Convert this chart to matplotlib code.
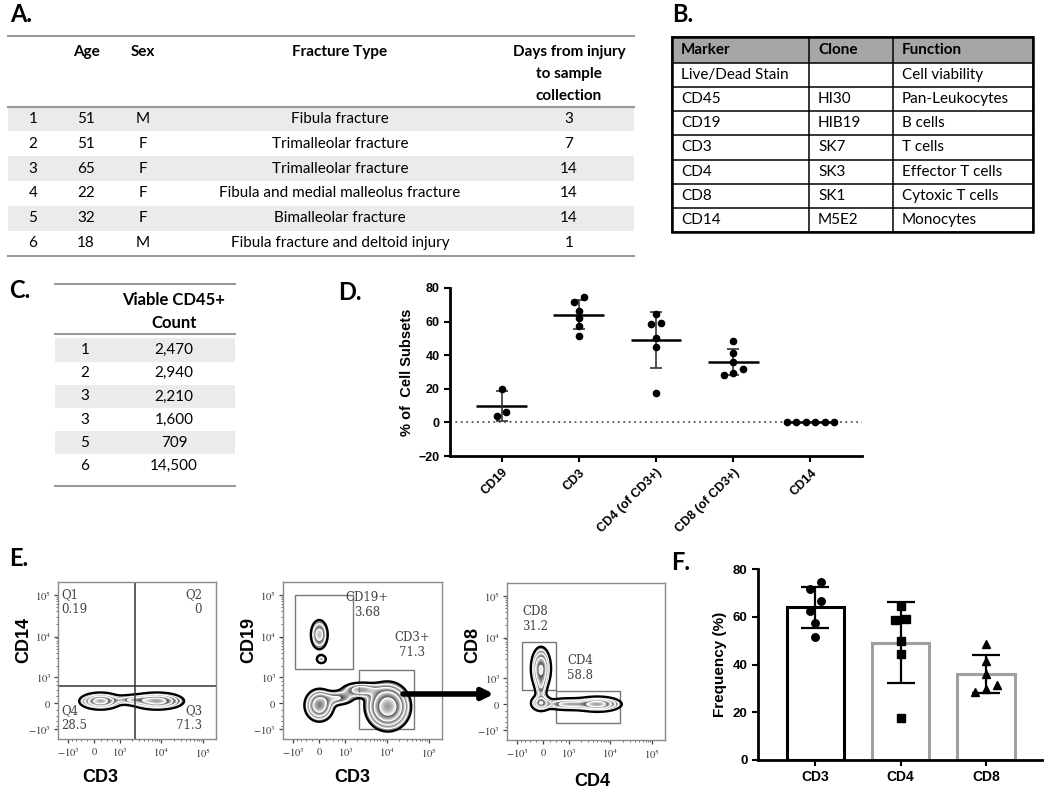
import numpy as np
import matplotlib
matplotlib.use('Agg')
import matplotlib.pyplot as plt
from matplotlib.patches import Rectangle

plt.rcParams['font.family'] = ['Liberation Sans', 'DejaVu Sans']
plt.rcParams['mathtext.fontset'] = 'stix'

# ---- panel A: patients
a_id = ['1', '2', '3', '4', '5', '6']
a_age = ['51', '51', '65', '22', '32', '18']
a_sex = ['M', 'F', 'F', 'F', 'F', 'M']
a_type = ['Fibula fracture', 'Trimalleolar fracture', 'Trimalleolar fracture',
          'Fibula and medial malleolus fracture', 'Bimalleolar fracture',
          'Fibula fracture and deltoid injury']
a_days = ['3', '7', '14', '14', '14', '1']

# ---- panel B: antibody panel
b_head = ['Marker', 'Clone', 'Function']
b_marker = ['Live/Dead Stain', 'CD45', 'CD19', 'CD3', 'CD4', 'CD8', 'CD14']
b_clone = ['', 'HI30', 'HIB19', 'SK7', 'SK3', 'SK1', 'M5E2']
b_func = ['Cell viability', 'Pan-Leukocytes', 'B cells', 'T cells',
          'Effector T cells', 'Cytoxic T cells', 'Monocytes']

# ---- panel C: counts
c_id = ['1', '2', '3', '3', '5', '6']
c_count = ['2,470', '2,940', '2,210', '1,600', '709', '14,500']

# ---- panel D / F: % of cell subsets
d_cats = ['CD19', 'CD3', 'CD4 (of CD3+)', 'CD8 (of CD3+)', 'CD14']
cd19 = [20, 3.6, 6]
cd3 = [74.6, 71.6, 66.4, 62.4, 57.4, 51.6]
cd4 = [64.4, 59, 58.6, 50, 44.6, 17.6]
cd8 = [48.6, 41.6, 36.2, 31.6, 29.6, 28.4]
cd14 = [0, 0, 0, 0, 0, 0]
f_cats = ['CD3', 'CD4', 'CD8']

# ---- panel E: gate numbers
e1_quads = ['Q1\n0.19', 'Q2\n0', 'Q4\n28.5', 'Q3\n71.3']
e2_gates = ['CD19+\n3.68', 'CD3+\n71.3']
e3_gates = ['CD8\n31.2', 'CD4\n58.8']
# populations as (x, y, sx, sy, weight) in biex display units
e1_pops = [(0.15, 0.05, 0.22, 0.09, 1.0), (1.5, 0.05, 0.28, 0.09, 1.0),
           (0.95, 0.08, 0.25, 0.06, 0.45)]
e2_pops = [(0.0, -0.05, 0.17, 0.19, 0.6), (1.62, -0.08, 0.24, 0.26, 1.0),
           (0.45, 0.12, 0.22, 0.10, 0.22), (0.98, 0.32, 0.25, 0.10, 0.3),
           (0.0, 1.64, 0.12, 0.21, 0.28), (0.05, 1.05, 0.08, 0.07, 0.16)]
e3_pops = [(-0.05, 0.85, 0.11, 0.24, 0.8), (-0.05, 0.4, 0.07, 0.2, 0.3),
           (-0.05, 0.03, 0.11, 0.09, 0.7), (0.6, 0.0, 0.30, 0.07, 0.55),
           (1.3, 0.0, 0.25, 0.08, 1.0)]

W, H = 1050, 792
TF = 'Lato'


def box(x0, y0, x1, y1):
    return [x0 / W, 1 - y1 / H, (x1 - x0) / W, (y1 - y0) / H]


def swarm(vals, ppu, near, step):
    # simple beeswarm: points closer than `near` px get spread sideways
    v = np.asarray(vals, float)
    order = np.argsort(v)
    off = np.zeros(len(v))
    groups = [[order[0]]]
    for i in order[1:]:
        if (v[i] - v[groups[-1][-1]]) * ppu < near:
            groups[-1].append(i)
        else:
            groups.append([i])
    for g in groups:
        for k, i in enumerate(g):
            off[i] = (k - (len(g) - 1) / 2) * step
    return off


def biex(v):
    return np.arcsinh(np.asarray(v, float) / 510.) / np.log(10)


fig = plt.figure(figsize=(10.5, 7.92), dpi=100)
ov = fig.add_axes([0, 0, 1, 1])
ov.set_xlim(0, W)
ov.set_ylim(H, 0)
ov.axis('off')
ov.set_zorder(5)

# panel letters
for x, y, t in [(10, 15, 'A.'), (672, 14, 'B.'), (9, 290, 'C.'), (338, 293, 'D.'),
                (9, 559, 'E.'), (671, 562, 'F.')]:
    ov.text(x, y, t, fontsize=17, fontweight='bold', family=TF, va='center', ha='left')

# ---------- A
xa0, xa1 = 8, 634
ov.plot([xa0, xa1], [36, 36], color='#9a9a9a', lw=1.5)
for x, t in zip([86, 143, 340], ['Age', 'Sex', 'Fracture Type']):
    ov.text(x, 52, t, ha='center', va='center', fontsize=11, fontweight='bold', family=TF)
for i, t in enumerate(['Days from injury', 'to sample', 'collection']):
    ov.text(569, 52 + 22 * i, t, ha='center', va='center', fontsize=11,
            fontweight='bold', family=TF)
ov.plot([xa0, xa1], [107, 107], color='#9a9a9a', lw=1.5)
rs = 24.8
for i in range(len(a_id)):
    y = 119 + rs * i
    if i % 2 == 0:
        ov.add_patch(Rectangle((xa0, y - rs / 2), xa1 - xa0, rs, color='#ebebeb', lw=0))
    for x, t in zip([33, 86, 143, 340, 569], [a_id[i], a_age[i], a_sex[i], a_type[i], a_days[i]]):
        ov.text(x, y, t, ha='center', va='center', fontsize=11, family=TF)
ov.plot([xa0, xa1], [256, 256], color='#9a9a9a', lw=1.5)

# ---------- B
bx = [672, 809, 893, 1033]
by = [37, 63] + [63 + 24.14 * (k + 1) for k in range(len(b_marker))]
ov.add_patch(Rectangle((bx[0], by[0]), bx[-1] - bx[0], by[1] - by[0], color='#a6a6a6', lw=0))
for y in by:
    ov.plot([bx[0], bx[-1]], [y, y], color='k', lw=1.1)
for x in bx:
    ov.plot([x, x], [by[0], by[-1]], color='k', lw=1.1)
ov.add_patch(Rectangle((bx[0], by[0]), bx[-1] - bx[0], by[-1] - by[0], fill=False, ec='k', lw=1.8))
for c in range(3):
    ov.text(bx[c] + 9, (by[0] + by[1]) / 2, b_head[c], va='center', fontsize=11,
            fontweight='bold', family=TF)
for r in range(len(b_marker)):
    y = (by[r + 1] + by[r + 2]) / 2
    for c, col in enumerate([b_marker, b_clone, b_func]):
        ov.text(bx[c] + 9, y, col[r], va='center', fontsize=11, family=TF)

# ---------- C
xc0, xc1 = 55, 235
ov.plot([xc0, xc1], [284, 284], color='#9a9a9a', lw=1.5)
ov.text(174, 300, 'Viable CD45+', ha='center', va='center', fontsize=12, fontweight='bold', family=TF)
ov.text(174, 323, 'Count', ha='center', va='center', fontsize=12, fontweight='bold', family=TF)
ov.plot([xc0, xc1], [334, 334], color='#9a9a9a', lw=1.5)
cs = 23.2
for i in range(len(c_id)):
    y = 350 + cs * i
    if i % 2 == 0:
        ov.add_patch(Rectangle((xc0, y - cs / 2), xc1 - xc0, cs, color='#ebebeb', lw=0))
    ov.text(85, y, c_id[i], ha='center', va='center', fontsize=11, family=TF)
    ov.text(174, y, c_count[i], ha='center', va='center', fontsize=11, family=TF)
ov.plot([xc0, xc1], [486, 486], color='#9a9a9a', lw=1.5)

# ---------- D
axd = fig.add_axes(box(450, 288, 862, 456))
d_vals = [cd19, cd3, cd4, cd8, cd14]
axd.axhline(0, color='#555', lw=1.3, ls=(0, (1, 2)), zorder=0)
for i, vals in enumerate(d_vals):
    m = np.mean(vals)
    sd = np.std(vals, ddof=1)
    xo = i + swarm(vals, 1.68, 6, 9.5) / 76.5
    axd.plot(xo, vals, 'o', color='k', ms=4.5, zorder=3)
    axd.hlines(m, i - 0.33, i + 0.33, color='k', lw=1.8, zorder=2)
    axd.errorbar(i, m, yerr=sd, fmt='none', ecolor='#333', elinewidth=1.2, capsize=4.5,
                 capthick=1.2, zorder=2)
axd.set_xlim(-0.667, 4.667)
axd.set_ylim(-20, 80)
axd.set_yticks([-20, 0, 20, 40, 60, 80])
axd.set_xticks(range(len(d_cats)))
axd.set_xticklabels(d_cats, rotation=45, ha='right', rotation_mode='anchor')
axd.set_ylabel('% of  Cell Subsets', fontsize=10.5, fontweight='bold', labelpad=3)
for s in ['top', 'right']:
    axd.spines[s].set_visible(False)
for s in ['left', 'bottom']:
    axd.spines[s].set_linewidth(2)
axd.tick_params(width=1.5, length=4, labelsize=9)
for lab in axd.get_xticklabels() + axd.get_yticklabels():
    lab.set_fontweight('bold')

# ---------- E
tick_v = [-1e3, 0, 1e3, 1e4, 1e5]
tick_l = [r'$-10^3$', r'$0$', r'$10^3$', r'$10^4$', r'$10^5$']
minor_v = [-800, -600, -400, -200, 200, 400, 600, 800] + \
    [k * 1e3 for k in range(2, 10)] + [k * 1e4 for k in range(2, 10)]
lim = (-0.857, 2.9)


def flow(ax, pops, thr=0.07, ratio=1.8):
    gx = np.linspace(lim[0], lim[1], 400)
    X, Y = np.meshgrid(gx, gx)
    Z = np.zeros_like(X)
    for cx, cy, sx, sy, w in pops:
        Z += w * np.exp(-0.5 * (((X - cx) / sx) ** 2 + ((Y - cy) / sy) ** 2))
    base = Z.max() * thr
    z = np.log(np.maximum(Z, 1e-12) / base) / np.log(ratio)
    zebra = np.ma.masked_where(Z < base, 1 - (z % 1))
    ax.imshow(zebra, extent=[lim[0], lim[1], lim[0], lim[1]], origin='lower', cmap='gray',
              vmin=-0.35, vmax=1.0, aspect='auto', interpolation='bilinear')
    lev = base * ratio ** np.arange(1, 9)
    lev = lev[lev < Z.max()]
    ax.contour(X, Y, Z, levels=lev, colors='w', linewidths=0.9)
    ax.contour(X, Y, Z, levels=[base], colors='k', linewidths=1.7)


def flow_axes(pos):
    ax = fig.add_axes(pos)
    ax.set_xlim(lim)
    ax.set_ylim(lim)
    ax.set_xticks(biex(tick_v))
    ax.set_xticklabels(tick_l)
    ax.set_yticks(biex(tick_v))
    ax.set_yticklabels(tick_l)
    ax.set_xticks(biex(minor_v), minor=True)
    ax.set_yticks(biex(minor_v), minor=True)
    ax.tick_params(which='major', length=3, width=0.9, labelsize=7.5, color='#444',
                   labelcolor='#333', pad=2)
    ax.tick_params(which='minor', length=1.5, width=0.6, color='#555')
    for s in ax.spines.values():
        s.set_color('#8a8a8a')
        s.set_linewidth(1)
    return ax


ax1 = flow_axes(box(58, 582, 216, 739))
flow(ax1, e1_pops)
ax1.axvline(0.98, color='#333', lw=1.1)
ax1.axhline(0.4, color='#333', lw=1.1)

ax2 = flow_axes(box(283, 582, 442, 739))
flow(ax2, e2_pops)
ax2.add_patch(Rectangle((-0.57, 0.81), 1.36, 1.79, fill=False, ec='#777', lw=1))
ax2.add_patch(Rectangle((0.95, -0.62), 1.29, 1.41, fill=False, ec='#777', lw=1))

ax3 = flow_axes(box(507, 583, 665, 740))
flow(ax3, e3_pops)
ax3.add_patch(Rectangle((-0.5, 0.33), 0.81, 1.15, fill=False, ec='#777', lw=1))
ax3.add_patch(Rectangle((0.31, -0.45), 1.52, 0.76, fill=False, ec='#777', lw=1))

gl = dict(fontsize=8.5, family='DejaVu Serif', color='#444', linespacing=1.15)
ov.text(61, 602, e1_quads[0], ha='left', va='center', **gl)
ov.text(202, 602, e1_quads[1], ha='right', va='center', multialignment='right', **gl)
ov.text(61, 718, e1_quads[2], ha='left', va='center', **gl)
ov.text(202, 718, e1_quads[3], ha='right', va='center', multialignment='right', **gl)
ov.text(367, 605, e2_gates[0], ha='center', va='center', **gl)
ov.text(412, 645, e2_gates[1], ha='center', va='center', **gl)
ov.text(535, 619, e3_gates[0], ha='center', va='center', **gl)
ov.text(580, 668, e3_gates[1], ha='center', va='center', **gl)

el = dict(fontsize=13, fontweight='bold', ha='center', va='center')
ov.text(24, 640, 'CD14', rotation=90, **el)
ov.text(249, 640, 'CD19', rotation=90, **el)
ov.text(473, 645, 'CD8', rotation=90, **el)
ov.text(100, 778, 'CD3', **el)
ov.text(352, 778, 'CD3', **el)
ov.text(592, 781, 'CD4', **el)

ov.annotate('', xy=(494, 694), xytext=(403, 694),
            arrowprops=dict(arrowstyle='-|>', lw=4, color='k', mutation_scale=16,
                            shrinkA=0, shrinkB=0))

# ---------- F
axf = fig.add_axes(box(758, 569, 1042, 760))
f_vals = [cd3, cd4, cd8]
f_edge = ['k', '#a0a0a0', '#a0a0a0']
f_mark = ['o', 's', '^']
for i, vals in enumerate(f_vals):
    m = np.mean(vals)
    sd = np.std(vals, ddof=1)
    axf.bar(i, m, width=0.667, fill=False, edgecolor=f_edge[i], lw=2.2, zorder=1)
    axf.errorbar(i, m, yerr=sd, fmt='none', ecolor='k', elinewidth=1.6, capsize=10,
                 capthick=1.6, zorder=2)
    xo = i + swarm(vals, 2.38, 10, 11) / 85.5
    axf.plot(xo, vals, f_mark[i], color='k', ms=5.4, zorder=3)
axf.set_xlim(-0.667, 2.655)
axf.set_ylim(0, 80)
axf.set_yticks([0, 20, 40, 60, 80])
axf.set_xticks(range(len(f_cats)))
axf.set_xticklabels(f_cats)
axf.set_ylabel('Frequency (%)', fontsize=11, fontweight='bold', labelpad=4)
for s in ['top', 'right']:
    axf.spines[s].set_visible(False)
for s in ['left', 'bottom']:
    axf.spines[s].set_linewidth(2)
axf.tick_params(width=1.5, length=4, labelsize=9.5)
axf.tick_params(axis='x', labelsize=10)
for lab in axf.get_xticklabels() + axf.get_yticklabels():
    lab.set_fontweight('bold')

fig.savefig('out.png', dpi=100)
